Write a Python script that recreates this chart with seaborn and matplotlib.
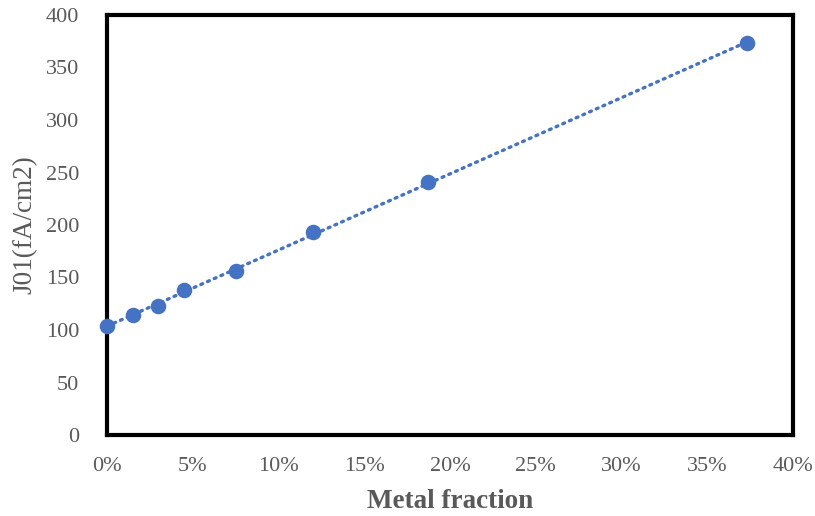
import numpy as np
import matplotlib
matplotlib.use('Agg')
import matplotlib.pyplot as plt
import matplotlib.ticker as mticker
import seaborn as sns

# data
metal_fraction = [0.0, 0.015, 0.030, 0.045, 0.075, 0.120, 0.187, 0.373]
j01 = [104, 114, 123, 138, 156, 193, 241, 373]

sns.set_theme(style='white')
plt.rcParams['font.family'] = ['Liberation Serif', 'DejaVu Serif']

grey = '#595959'
blue = '#4472C4'

fig = plt.figure(figsize=(8.15, 5.16), dpi=100)
ax = fig.add_axes([107/815, 1 - 435/516, (793-107)/815, (435-15)/516])

# linear trendline across the data range
coef = np.polyfit(metal_fraction, j01, 1)
xs = np.array([min(metal_fraction), max(metal_fraction)])
ax.plot(xs, np.polyval(coef, xs), color=blue, lw=2.4, ls=(0, (0.6, 1.6)),
        dash_capstyle='round', zorder=2)

sns.scatterplot(x=metal_fraction, y=j01, ax=ax, s=125, color=blue,
                edgecolor=blue, linewidth=0, zorder=3, clip_on=False)

ax.set_xlim(0, 0.40)
ax.set_ylim(0, 400)
ax.set_xticks(np.arange(0, 0.401, 0.05))
ax.set_yticks(np.arange(0, 401, 50))
ax.xaxis.set_major_formatter(mticker.PercentFormatter(1.0, decimals=0))

for s in ax.spines.values():
    s.set_color('black')
    s.set_linewidth(3)
ax.tick_params(axis='both', direction='in', length=5, width=2.5, color='black',
               labelsize=16, labelcolor=grey)
ax.tick_params(axis='x', pad=16)
ax.tick_params(axis='y', pad=20)

ax.set_xlabel('Metal fraction', fontsize=19.5, fontweight='bold', color=grey, labelpad=9)
ax.set_ylabel('J01(fA/cm2)', fontsize=19.5, color=grey, labelpad=6)

fig.savefig('out.png', dpi=100)
